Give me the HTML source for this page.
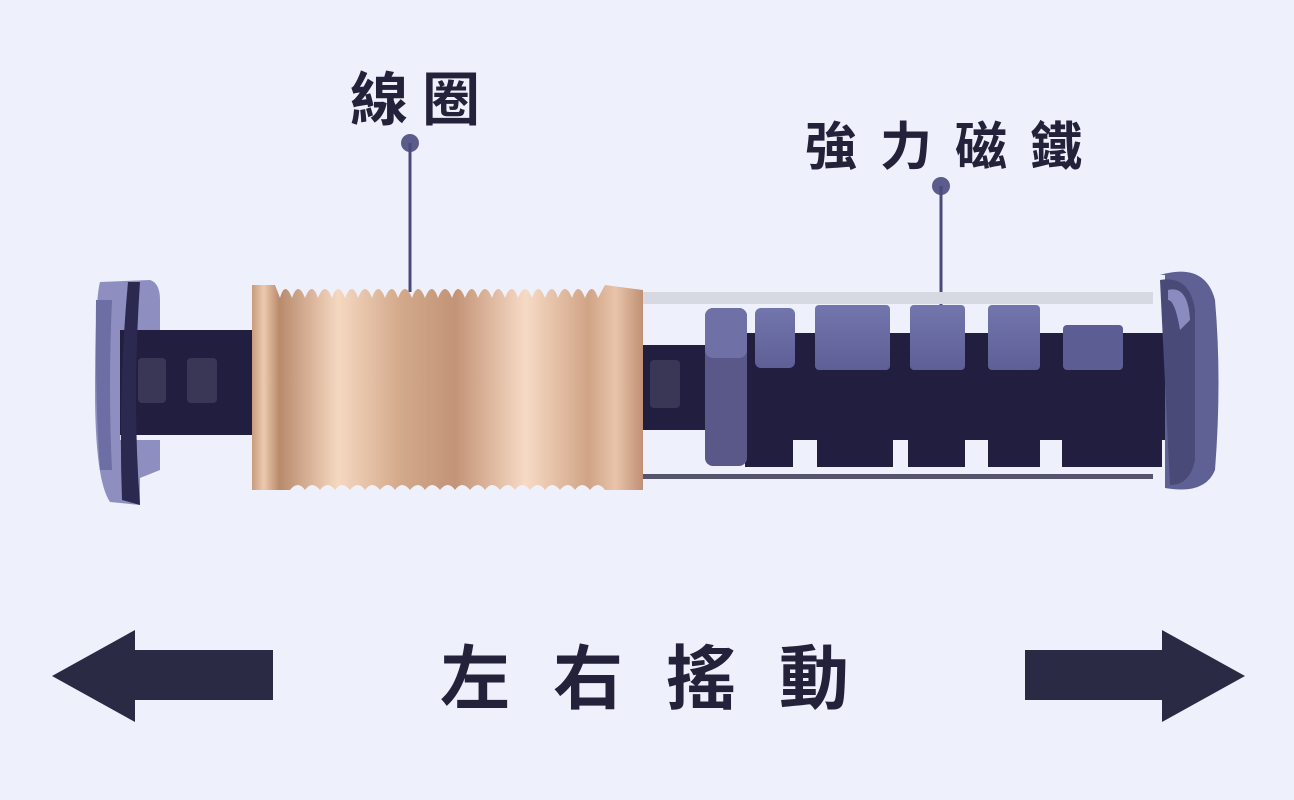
<!DOCTYPE html>
<html><head><meta charset="utf-8"><style>
html,body{margin:0;padding:0;background:#eef1fb;}
svg{display:block}
text{font-family:"Liberation Sans","Noto Sans CJK TC","Noto Sans CJK SC",sans-serif;font-weight:bold;fill:#23223a}
</style></head><body>
<svg width="1294" height="800" viewBox="0 0 1294 800" xmlns="http://www.w3.org/2000/svg">
<defs>
<linearGradient id="cu" x1="0" x2="1" y1="0" y2="0">
<stop offset="0" stop-color="#c99b7c"/><stop offset="0.03" stop-color="#eccab0"/><stop offset="0.07" stop-color="#b98a6c"/>
<stop offset="0.22" stop-color="#f5d8c1"/><stop offset="0.38" stop-color="#d3a98b"/><stop offset="0.52" stop-color="#c39477"/>
<stop offset="0.7" stop-color="#f7dac5"/><stop offset="0.86" stop-color="#d0a486"/><stop offset="0.93" stop-color="#e8c4aa"/><stop offset="1" stop-color="#c09074"/>
</linearGradient>
<linearGradient id="mg" x1="0" x2="0" y1="0" y2="1">
<stop offset="0" stop-color="#7375ad"/><stop offset="1" stop-color="#5d5f96"/>
</linearGradient>
</defs>
<text x="350" y="120" font-size="58" letter-spacing="14">線圈</text>
<circle cx="410" cy="143" r="9" fill="#5c5c8c"/>
<line x1="410" y1="143" x2="410" y2="292" stroke="#4a4a7a" stroke-width="3"/>
<text x="805" y="165" font-size="52" letter-spacing="23">強力磁鐵</text>
<circle cx="941" cy="186" r="9" fill="#5c5c8c"/>
<line x1="941" y1="186" x2="941" y2="322" stroke="#4a4a7a" stroke-width="3"/>

<rect x="643" y="292" width="510" height="12" fill="#d6d8e2"/>
<rect x="643" y="474" width="510" height="5" fill="#55556e"/>

<rect x="115" y="330" width="145" height="105" fill="#221e40"/>
<rect x="138" y="358" width="28" height="45" rx="4" fill="#3a3656"/>
<rect x="187" y="358" width="30" height="45" rx="4" fill="#3a3656"/>
<path d="M100 282 L150 280 Q160 283 160 300 L160 330 L120 330 L120 440 L160 440 L160 470 L140 478 L140 505 L110 502 Q95 480 95 390 Q95 300 100 282Z" fill="#8e8fc0"/>
<path d="M128 282 Q118 390 122 500 L140 505 Q132 400 140 282Z" fill="#2c2950"/>
<path d="M96 300 Q95 400 100 470 L112 470 Q108 390 112 300Z" fill="#6d6ea3"/>

<rect x="640" y="345" width="75" height="85" fill="#221e40"/>
<rect x="650" y="360" width="30" height="48" rx="4" fill="#3a3656"/>

<path d="M252 285 L275 285 L280 298 Q285 280 292 298 Q298 280 305 298 Q312 280 318 298 Q325 280 332 298 Q338 280 345 298 Q352 280 358 298 Q365 280 372 298 Q378 280 385 298 Q392 280 398 298 Q405 280 412 298 Q418 280 425 298 Q432 280 438 298 Q445 280 452 298 Q458 280 465 298 Q472 280 478 298 Q485 280 492 298 Q498 280 505 298 Q512 280 518 298 Q525 280 532 298 Q538 280 545 298 Q552 280 558 298 Q565 280 572 298 Q578 280 585 298 Q592 280 598 298 L605 285 L643 290 L643 490 L605 490 Q598 480 590 490 Q582 480 575 490 Q568 480 560 490 Q552 480 545 490 Q538 480 530 490 Q522 480 515 490 Q508 480 500 490 Q492 480 485 490 Q478 480 470 490 Q462 480 455 490 Q448 480 440 490 Q432 480 425 490 Q418 480 410 490 Q402 480 395 490 Q388 480 380 490 Q372 480 365 490 Q358 480 350 490 Q342 480 335 490 Q328 480 320 490 Q312 480 305 490 Q298 480 290 490 L252 490Z" fill="url(#cu)"/>

<!-- magnet assembly -->
<rect x="745" y="333" width="440" height="107" fill="#221e40"/>
<rect x="745" y="438" width="48" height="29" fill="#221e40"/>
<rect x="817" y="438" width="76" height="29" fill="#221e40"/>
<rect x="908" y="438" width="57" height="29" fill="#221e40"/>
<rect x="988" y="438" width="52" height="29" fill="#221e40"/>
<rect x="1062" y="438" width="100" height="29" fill="#221e40"/>
<rect x="705" y="308" width="42" height="158" rx="8" fill="#5a5888"/>
<rect x="705" y="308" width="42" height="50" rx="8" fill="#6f70a5"/>
<rect x="755" y="308" width="40" height="60" rx="6" fill="url(#mg)"/>
<rect x="815" y="305" width="75" height="65" rx="4" fill="url(#mg)"/>
<rect x="910" y="305" width="55" height="65" rx="4" fill="url(#mg)"/>
<rect x="988" y="305" width="52" height="65" rx="4" fill="url(#mg)"/>
<rect x="1063" y="325" width="60" height="45" rx="4" fill="#5c5d92"/>
<path d="M1160 275 Q1205 262 1215 300 Q1222 380 1215 470 Q1205 495 1165 488 L1165 275Z" fill="#5f6094"/>
<path d="M1160 280 Q1190 275 1195 310 L1195 460 Q1190 485 1170 485Z" fill="#4a4a78"/>
<path d="M1168 290 Q1188 285 1190 320 L1180 330 Q1175 300 1168 300Z" fill="#8a8cc0"/>

<path d="M52 676 L135 630 L135 650 L273 650 L273 700 L135 700 L135 722Z" fill="#2b2a45"/>
<path d="M1245 676 L1162 630 L1162 650 L1025 650 L1025 700 L1162 700 L1162 722Z" fill="#2b2a45"/>
<text x="440" y="703" font-size="70" letter-spacing="43">左右搖動</text>
</svg>
</body></html>
